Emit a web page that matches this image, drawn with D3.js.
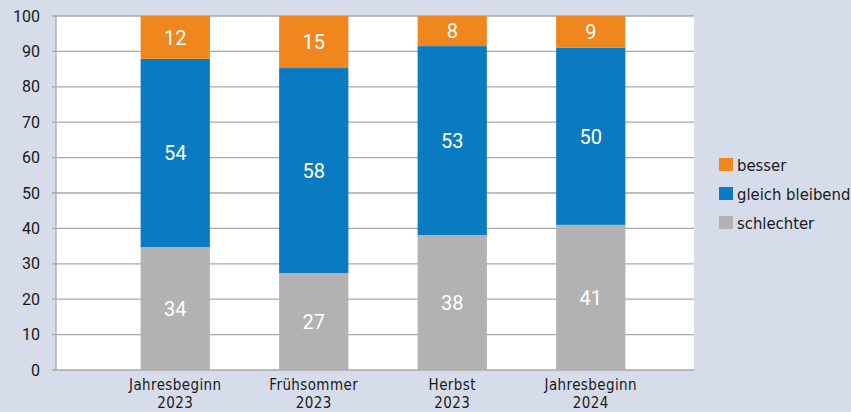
<!DOCTYPE html>
<html><head><meta charset="utf-8">
<script src="https://cdn.jsdelivr.net/npm/d3@7"></script>
<style>
html,body{margin:0;padding:0;background:#d6dce9;}
svg{display:block;}
</style></head>
<body>
<svg id="chart" width="851" height="412"></svg>
<script>
const categoryLine1 = ["Jahresbeginn","Frühsommer","Herbst","Jahresbeginn"];
const categoryLine2 = ["2023","2023","2023","2024"];
const seriesNames = ["schlechter","gleich bleibend","besser"];
// segment heights as drawn (unrounded), and the printed labels
const schlechter = [34.7,27.4,38.1,41.0];
const gleichBleibend = [53.2,57.9,53.4,50.0];
const besser = [12.1,14.7,8.5,9.0];
const schlechterLabels = [34,27,38,41];
const gleichBleibendLabels = [54,58,53,50];
const besserLabels = [12,15,8,9];
const yTicks = [0,10,20,30,40,50,60,70,80,90,100];
const colors = {"besser":"#ef861e","gleich bleibend":"#0b7bc1","schlechter":"#b2b2b2"};
const labels = {"besser":besserLabels,"gleich bleibend":gleichBleibendLabels,"schlechter":schlechterLabels};

const svg = d3.select("#chart");
const W = 851, H = 412;
svg.append("rect").attr("width",W).attr("height",H).attr("fill","#d6dce9");

const plot = {l:56, r:694, t:16, b:370};
const y = d3.scaleLinear().domain([0,100]).range([plot.b, plot.t]);
const keys = categoryLine1.map((c,i)=>i);
const x = d3.scaleBand().domain(keys).range([106,660]).paddingInner(0.5).paddingOuter(0.25);

svg.append("rect").attr("x",plot.l).attr("y",plot.t).attr("width",plot.r-plot.l).attr("height",plot.b-plot.t).attr("fill","#ffffff");

// grid
svg.append("g").selectAll("line").data(yTicks).join("line")
  .attr("x1",plot.l-4).attr("x2",plot.r)
  .attr("y1",d=>y(d)).attr("y2",d=>y(d))
  .attr("stroke","#a9a9a9").attr("stroke-width",1.3);
svg.append("line").attr("x1",plot.l).attr("x2",plot.l).attr("y1",plot.t).attr("y2",plot.b).attr("stroke","#a9a9a9").attr("stroke-width",1.3);

// y axis labels
const yAxis = d3.axisLeft(y).tickValues(yTicks).tickSize(0).tickPadding(16);
const ya = svg.append("g").attr("transform",`translate(${plot.l},0)`).call(yAxis);
ya.select(".domain").remove();
ya.selectAll("text").attr("font-family","Roboto, sans-serif").attr("font-size",16).attr("fill","#1a1a1a");

// stack
const rows = keys.map(i=>({i, "schlechter":schlechter[i], "gleich bleibend":gleichBleibend[i], "besser":besser[i]}));
const stack = d3.stack().keys(seriesNames)(rows);
const g = svg.append("g");
stack.forEach(layer=>{
  const name = layer.key;
  g.selectAll(null).data(layer).join("rect")
    .attr("x",d=>x(d.data.i)).attr("width",x.bandwidth())
    .attr("y",d=>y(d[1])).attr("height",d=>y(d[0])-y(d[1]))
    .attr("fill",colors[name]);
  g.selectAll(null).data(layer).join("text")
    .attr("x",d=>x(d.data.i)+x.bandwidth()/2)
    .attr("y",d=>(y(d[0])+y(d[1]))/2)
    .attr("dy","0.36em").attr("text-anchor","middle")
    .attr("font-family","Roboto, sans-serif").attr("font-size",20)
    .attr("fill","#ffffff")
    .text(d=>labels[name][d.data.i]);
});

// x axis labels
const xl = svg.append("g").attr("font-family","'DejaVu Sans Condensed', sans-serif")
  .attr("font-size",15).attr("letter-spacing","0.4px").attr("fill","#1a1a1a").attr("text-anchor","middle");
xl.selectAll(null).data(keys).join("text")
  .attr("x",i=>x(i)+x.bandwidth()/2).attr("y",390).text(i=>categoryLine1[i]);
xl.selectAll(null).data(keys).join("text")
  .attr("x",i=>x(i)+x.bandwidth()/2).attr("y",407.5).text(i=>categoryLine2[i]);

// legend
const legendOrder = ["besser","gleich bleibend","schlechter"];
const lg = svg.append("g").attr("transform","translate(719,158)");
legendOrder.forEach((n,i)=>{
  lg.append("rect").attr("x",0).attr("y",i*29).attr("width",14).attr("height",13).attr("fill",colors[n]);
  lg.append("text").attr("x",18).attr("y",i*29+7).attr("dy","0.36em")
    .attr("font-family","'DejaVu Sans Condensed', sans-serif").attr("font-size",16.5).attr("fill","#1a1a1a").text(n);
});
</script>
</body></html>
